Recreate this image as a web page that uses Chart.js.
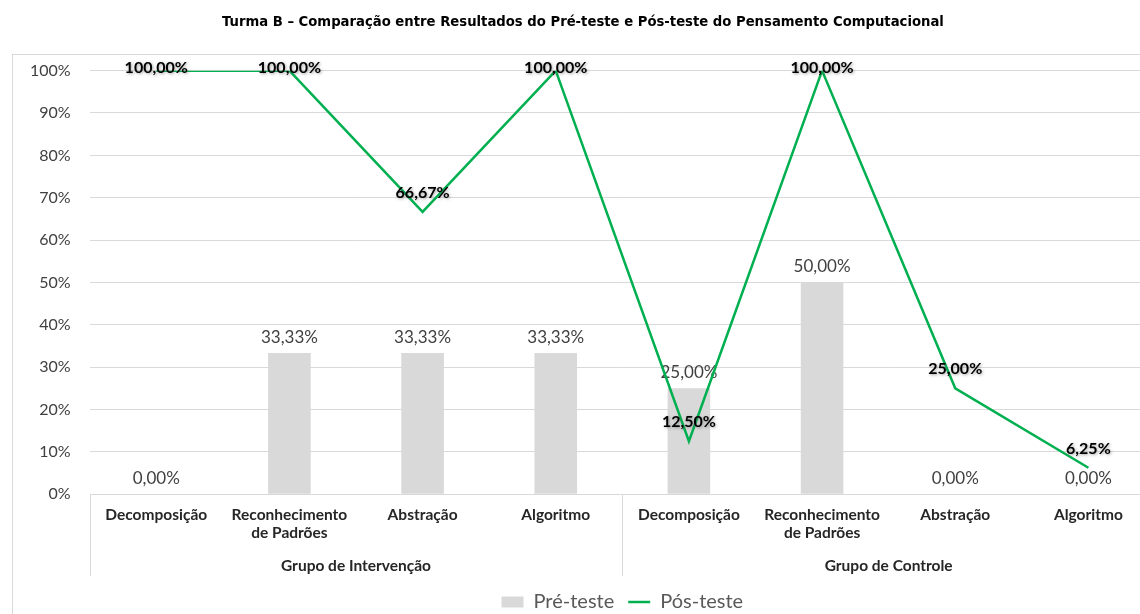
<!DOCTYPE html>
<html lang="pt">
<head>
  <meta charset="UTF-8">
  <title>Turma B – Pré-teste e Pós-teste</title>
  <script src="https://cdn.jsdelivr.net/npm/chart.js"></script>
  <style>
    html, body { margin: 0; padding: 0; background: #fff; overflow: hidden; }
    canvas { display: block; }
  </style>
</head>
<body>
  <canvas id="grafico" width="1174" height="614"></canvas>

  <script>
    // Dados
    const categorias = [
      'Decomposição', ['Reconhecimento', 'de Padrões'], 'Abstração', 'Algoritmo',
      'Decomposição', ['Reconhecimento', 'de Padrões'], 'Abstração', 'Algoritmo'
    ];
    const grupos = ['Grupo de Intervenção', 'Grupo de Controle'];
    const preTeste = [0, 33.33, 33.33, 33.33, 25, 50, 0, 0];
    const posTeste = [100, 100, 66.67, 100, 12.5, 100, 25, 6.25];
    const marcasY = [0, 10, 20, 30, 40, 50, 60, 70, 80, 90, 100];

    const fonte = 'Lato, "Open Sans", sans-serif';
    const cinzaLinha = '#d9d9d9';

    function formata(v) {
      return v.toFixed(2).replace('.', ',') + '%';
    }

    // borda, separadores de grupo e rótulos de dados
    const extras = {
      id: 'extras',
      beforeDraw(chart) {
        const c = chart.ctx;
        c.save();
        c.strokeStyle = cinzaLinha;
        c.lineWidth = 1;
        c.strokeRect(12.5, 54.5, chart.width + 50, chart.height + 50);
        c.restore();
      },
      afterDraw(chart) {
        const c = chart.ctx;
        const x = chart.scales.x;
        const fundo = chart.chartArea.bottom;
        const meio = (x.getPixelForValue(3) + x.getPixelForValue(4)) / 2;
        c.save();
        c.strokeStyle = cinzaLinha;
        c.lineWidth = 1;
        [x.left, meio, x.right].forEach(px => {
          const p = Math.round(px) + 0.5;
          c.beginPath();
          c.moveTo(p, fundo);
          c.lineTo(p, fundo + 82);
          c.stroke();
        });
        c.restore();
      },
      afterDatasetDraw(chart, args) {
        const c = chart.ctx;
        const meta = args.meta;
        c.save();
        c.textAlign = 'center';
        c.textBaseline = 'middle';
        if (args.index === 0) {
          c.font = '17px ' + fonte;
          c.fillStyle = '#404040';
          meta.data.forEach((el, i) => {
            c.fillText(formata(preTeste[i]), el.x, el.y - 16);
          });
        } else {
          c.font = 'bold 16px ' + fonte;
          c.fillStyle = '#000';
          c.shadowColor = 'rgba(90,90,90,0.55)';
          c.shadowBlur = 3;
          c.shadowOffsetX = 1;
          c.shadowOffsetY = 1;
          const topo = chart.chartArea.top;
          meta.data.forEach((el, i) => {
            c.fillText(formata(posTeste[i]), el.x, Math.max(el.y - 19, topo - 3));
          });
        }
        c.restore();
      }
    };

    const ctx = document.getElementById('grafico').getContext('2d');
    new Chart(ctx, {
      data: {
        labels: categorias,
        datasets: [{
          type: 'bar',
          label: 'Pré-teste',
          data: preTeste,
          backgroundColor: '#d9d9d9',
          barPercentage: 0.32,
          categoryPercentage: 1,
          pointStyle: 'rect',
          order: 1
        }, {
          type: 'line',
          label: 'Pós-teste',
          data: posTeste,
          borderColor: '#00b050',
          backgroundColor: '#00b050',
          borderWidth: 2.5,
          pointRadius: 0,
          pointStyle: 'line',
          tension: 0,
          order: 0
        }]
      },
      options: {
        responsive: false,
        animation: false,
        layout: { padding: { left: 11, right: 19, top: 0, bottom: -8 } },
        plugins: {
          title: {
            display: true,
            text: 'Turma B – Comparação entre Resultados do Pré-teste e Pós-teste do Pensamento Computacional',
            color: '#000',
            font: { family: '"Liberation Sans Narrow", "DejaVu Sans Condensed", sans-serif', size: 14.7, weight: 'bold' },
            padding: { top: 13, bottom: 40 }
          },
          legend: {
            position: 'bottom',
            fullSize: false,
            labels: {
              color: '#595959',
              font: { family: fonte, size: 20 },
              usePointStyle: true,
              pointStyleWidth: 22,
              boxHeight: 11,
              padding: 14,
              sort: (a, b) => a.datasetIndex - b.datasetIndex
            }
          },
          tooltip: { enabled: false }
        },
        scales: {
          x: {
            grid: { display: false, drawTicks: false },
            border: { display: false },
            ticks: {
              color: '#262626',
              font: { family: fonte, size: 15.5, weight: 'bold' },
              padding: 11,
              maxRotation: 0,
              autoSkip: false
            }
          },
          x2: {
            type: 'category',
            labels: grupos,
            position: 'bottom',
            offset: true,
            grid: { display: false, drawTicks: false },
            border: { display: false },
            ticks: {
              color: '#262626',
              font: { family: fonte, size: 15.5, weight: 'bold' },
              padding: 3
            }
          },
          y: {
            min: 0,
            max: 100,
            afterBuildTicks(axis) {
              axis.ticks = marcasY.map(v => ({ value: v }));
            },
            grid: { color: cinzaLinha, lineWidth: 1, drawTicks: false },
            border: { display: false },
            ticks: {
              color: '#404040',
              font: { family: fonte, size: 16 },
              padding: 19,
              callback: v => v + '%'
            }
          }
        }
      },
      plugins: [extras]
    });
  </script>
</body>
</html>
